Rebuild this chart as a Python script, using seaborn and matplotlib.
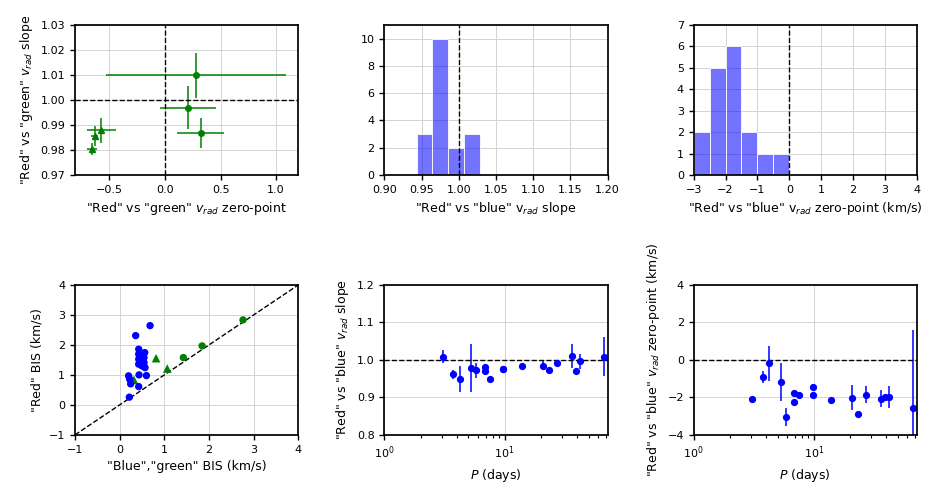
import numpy as np
import pandas as pd
import matplotlib
matplotlib.use("Agg")
import matplotlib.pyplot as plt
import seaborn as sns

# ---------------- data ----------------
# "Red" vs "green" calibration (top-left); circles and triangles
rg_zp_circ = [0.279, 0.207, 0.321]
rg_zp_circ_err = [0.814, 0.256, 0.21]
rg_sl_circ = [1.010, 0.997, 0.987]
rg_sl_circ_err = [0.009, 0.0087, 0.006]
rg_zp_tri = [-0.572, -0.634, -0.658]
rg_zp_tri_err = [0.134, 0.03, 0.045]
rg_sl_tri = [0.988, 0.9855, 0.9805]
rg_sl_tri_err = [0.005, 0.004, 0.0025]

# "Red" vs "blue" per star
period = [3.06, 3.76, 4.27, 5.29, 5.84, 6.82, 6.82, 7.55, 9.75, 9.75,
          13.9, 20.7, 23.3, 27.3, 36.2, 39.2, 42.1, 66.7]
rb_slope = [1.009, 0.962, 0.949, 0.978, 0.973, 0.981, 0.971, 0.948, 0.976, 0.977,
            0.985, 0.985, 0.974, 0.992, 1.010, 0.971, 0.996, 1.008]
rb_slope_err = [0.018, 0.012, 0.034, 0.064, 0.02, 0.007, 0.005, 0.004, 0.005, 0.005,
                0.008, 0.012, 0.004, 0.008, 0.032, 0.004, 0.019, 0.052]
rb_zp = [-2.08, -0.90, -0.18, -1.17, -3.04, -1.78, -2.24, -1.86, -1.47, -1.88,
         -2.12, -2.02, -2.90, -1.85, -2.06, -1.98, -1.99, -2.58]
rb_zp_err = [0.05, 0.31, 0.93, 1.0, 0.47, 0.15, 0.1, 0.08, 0.08, 0.08,
             0.08, 0.66, 0.08, 0.46, 0.46, 0.1, 0.6, 4.15]

slope_bins = [0.9434, 0.9645, 0.9855, 1.0075, 1.0285]
zp_bins = [-3.0, -2.5, -2.0, -1.5, -1.0, -0.5, 0.0]

# BIS comparison
bis_blue = [0.680, 0.358, 0.426, 0.561, 0.426, 0.545, 0.426, 0.545, 0.426, 0.568,
            0.599, 0.433, 0.200, 0.223, 0.246, 0.426, 0.216, 0.50]
bis_red_b = [2.643, 2.31, 1.857, 1.743, 1.69, 1.577, 1.523, 1.41, 1.357, 1.243,
             0.977, 1.0, 0.967, 0.857, 0.70, 0.61, 0.257, 1.30]
bis_green_circ = [1.425, 1.845, 2.761]
bis_red_gc = [1.578, 1.967, 2.833]
bis_green_tri = [0.815, 1.065, 0.32]
bis_red_gt = [1.557, 1.211, 0.833]

# ---------------- style ----------------
sns.set_style("ticks")
plt.rcParams.update({
    "font.family": ["DejaVu Sans"],
    "font.size": 9,
    "axes.labelsize": 9,
    "xtick.labelsize": 8,
    "ytick.labelsize": 8,
    "axes.linewidth": 1.25,
    "axes.edgecolor": "black",
    "xtick.major.width": 1.0,
    "ytick.major.width": 1.0,
    "xtick.major.size": 3.5,
    "ytick.major.size": 3.5,
    "xtick.minor.size": 2,
    "xtick.minor.width": 0.8,
    "xtick.color": "black",
    "ytick.color": "black",
    "axes.labelcolor": "black",
    "text.color": "black",
})

fig, axes = plt.subplots(2, 3, figsize=(9.4, 5.01), dpi=100)
fig.subplots_adjust(left=0.0798, right=0.9755, bottom=0.132, top=0.950,
                    wspace=0.385, hspace=0.733)

for ax in axes.flat:
    ax.grid(True, color="#d3d3d3", linewidth=0.7)
    ax.set_axisbelow(True)

eb_kw = dict(linestyle="none", elinewidth=1.1, capsize=0)

# top-left
ax = axes[0, 0]
ax.errorbar(rg_zp_circ, rg_sl_circ, xerr=rg_zp_circ_err, yerr=rg_sl_circ_err,
            marker="o", ms=4, color="green", **eb_kw)
ax.errorbar(rg_zp_tri, rg_sl_tri, xerr=rg_zp_tri_err, yerr=rg_sl_tri_err,
            marker="^", ms=4.5, color="green", **eb_kw)
ax.axhline(1.0, color="black", ls="--", lw=1)
ax.axvline(0.0, color="black", ls="--", lw=1)
ax.set_xlim(-0.81, 1.2)
ax.set_ylim(0.97, 1.03)
ax.set_xticks([-0.5, 0.0, 0.5, 1.0])
ax.set_yticks(np.arange(0.97, 1.031, 0.01))
ax.set_xlabel('"Red" vs "green" $v_{rad}$ zero-point')
ax.set_ylabel('"Red" vs "green" $v_{rad}$ slope')

# top-middle
ax = axes[0, 1]
sns.histplot(x=rb_slope, bins=slope_bins, color="blue", alpha=0.55,
             edgecolor="white", linewidth=0.6, ax=ax)
ax.axvline(1.0, color="black", ls="--", lw=1)
ax.set_xlim(0.9, 1.2)
ax.set_ylim(0, 11)
ax.set_xticks(np.arange(0.90, 1.201, 0.05))
ax.set_yticks([0, 2, 4, 6, 8, 10])
ax.set_xticklabels([f"{v:.2f}" for v in np.arange(0.90, 1.201, 0.05)])
ax.set_ylabel("")
ax.set_xlabel('"Red" vs "blue" v$_{rad}$ slope')

# top-right
ax = axes[0, 2]
sns.histplot(x=rb_zp, bins=zp_bins, color="blue", alpha=0.55,
             edgecolor="white", linewidth=0.6, ax=ax)
ax.axvline(0.0, color="black", ls="--", lw=1)
ax.set_xlim(-3, 4)
ax.set_ylim(0, 7)
ax.set_xticks(range(-3, 5))
ax.set_yticks(range(0, 8))
ax.set_ylabel("")
ax.set_xlabel('"Red" vs "blue" v$_{rad}$ zero-point (km/s)')

# bottom-left
ax = axes[1, 0]
ax.plot([-1, 4], [-1, 4], color="black", ls="--", lw=1)
sns.scatterplot(x=bis_green_tri, y=bis_red_gt, marker="^", s=38, color="green",
                edgecolor="none", ax=ax, zorder=3)
sns.scatterplot(x=bis_blue, y=bis_red_b, marker="o", s=28, color="blue",
                edgecolor="none", ax=ax, zorder=4)
sns.scatterplot(x=bis_green_circ, y=bis_red_gc, marker="o", s=28, color="green",
                edgecolor="none", ax=ax, zorder=4)
ax.set_xlim(-1, 4)
ax.set_ylim(-1, 4)
ax.set_xticks(range(-1, 5))
ax.set_yticks(range(-1, 5))
ax.set_xlabel('"Blue","green" BIS (km/s)')
ax.set_ylabel('"Red" BIS (km/s)')

# bottom-middle
ax = axes[1, 1]
ax.errorbar(period, rb_slope, yerr=rb_slope_err, marker="o", ms=4.2,
            color="blue", **eb_kw)
ax.axhline(1.0, color="black", ls="--", lw=1)
ax.set_xscale("log")
ax.set_xlim(1, 72)
ax.set_ylim(0.8, 1.2)
ax.set_yticks([0.8, 0.9, 1.0, 1.1, 1.2])
ax.set_xlabel('$P$ (days)')
ax.set_ylabel('"Red" vs "blue" $v_{rad}$ slope')

# bottom-right
ax = axes[1, 2]
ax.errorbar(period, rb_zp, yerr=rb_zp_err, marker="o", ms=4.2,
            color="blue", **eb_kw)
ax.axhline(0.0, color="black", ls="--", lw=1)
ax.set_xscale("log")
ax.set_xlim(1, 72)
ax.set_ylim(-4, 4)
ax.set_yticks([-4, -2, 0, 2, 4])
ax.set_xlabel('$P$ (days)')
ax.set_ylabel('"Red" vs "blue" $v_{rad}$ zero-point (km/s)')

for ax in axes.flat:
    for s in ax.spines.values():
        s.set_visible(True)
        s.set_linewidth(1.25)
        s.set_color("black")
    ax.tick_params(which="both", direction="out")

fig.savefig("out.png", dpi=100)
